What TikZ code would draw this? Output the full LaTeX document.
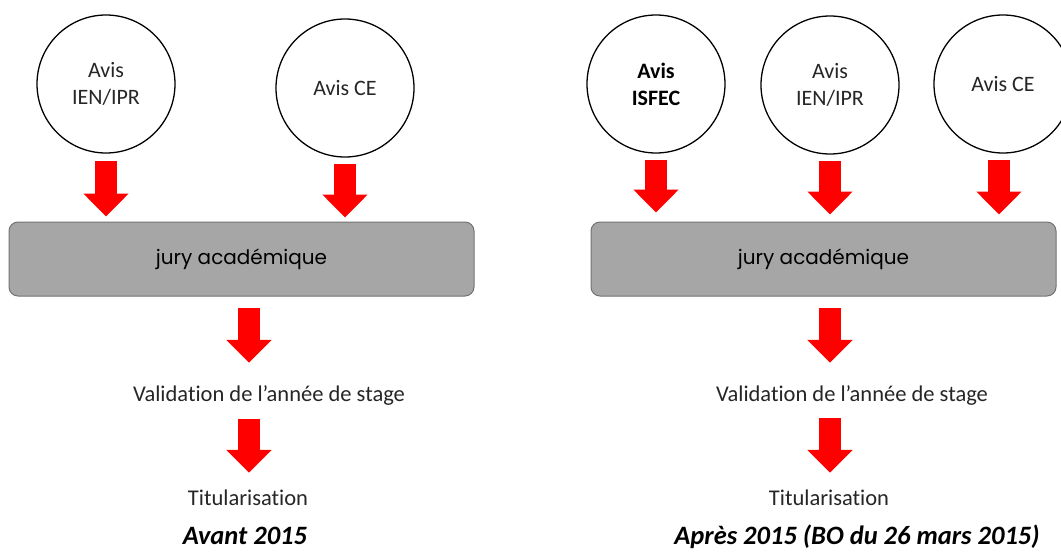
\documentclass[tikz,border=0pt]{standalone}
\usepackage{fontspec}
\setmainfont{Carlito}[Ligatures={NoCommon}]
\newfontfamily\juryfont{Poppins}
\usetikzlibrary{arrows.meta}
\tikzset{
 avis/.style={circle, draw=black, line width=1.3pt, minimum size=138pt, inner sep=0pt, align=center,
   font=\fontsize{22}{27}\selectfont, text=black!85},
 jurybox/.style={rectangle, rounded corners=9pt, draw=black!55, line width=1pt, fill=black!35,
   minimum width=465pt, minimum height=74pt, font=\juryfont\fontsize{20}{24}\selectfont},
 lbl/.style={font=\fontsize{22.5}{27}\selectfont, text=black!85, anchor=base, inner sep=0pt,
   text height=16pt, text depth=5pt},
 titre/.style={font=\bfseries\itshape\fontsize{26.5}{30}\selectfont, anchor=base},
 bigarrow/.style={draw=red, line width=22pt, -{Triangle[length=23pt,width=44pt]}},
}
\begin{document}
\begin{tikzpicture}[x=1pt,y=-1pt]
\useasboundingbox (0,0) rectangle (1061,552);
\clip (0,0) rectangle (1061,552);
\fill[white] (0,0) rectangle (1061,552);

% ---------- Avant 2015 ----------
\node[avis] (c1) at (106,84) {Avis\\IEN/IPR};
\node[avis] (c2) at (345,88) {Avis CE};
\node[jurybox] (jury1) at (241.5,259) {jury académique};
\node[lbl] (val1) at (269,401) {Validation de l’année de stage};
\node[lbl] (tit1) at (248,505) {Titularisation};
\node[titre] (t1) at (245,544) {Avant 2015};

\draw[bigarrow, shorten <=7pt, shorten >=5pt] (c1.south) -- (c1.south |- jury1.north);
\draw[bigarrow, shorten <=6pt, shorten >=4pt] (c2.south) -- (c2.south |- jury1.north);
\coordinate (j1out) at ([xshift=7.5pt]jury1.south);
\draw[bigarrow, shorten <=11pt, shorten >=22pt] (j1out) -- (j1out |- val1.north);
\coordinate (v1out) at (j1out |- val1.south);
\draw[bigarrow, shorten <=13pt, shorten >=16pt] (v1out) -- (v1out |- tit1.north);

% ---------- Après 2015 ----------
\node[avis, font=\bfseries\fontsize{22}{27}\selectfont, text=black] (c3) at (656,84) {Avis\\ISFEC};
\node[avis] (c4) at (830,85) {Avis\\IEN/IPR};
\node[avis] (c5) at (1003,84) {Avis CE};
\node[jurybox] (jury2) at (823.5,259) {jury académique};
\node[lbl] (val2) at (852,401) {Validation de l’année de stage};
\node[lbl] (tit2) at (829,505) {Titularisation};
\node[titre] (t2) at (857,544) {Après 2015 (BO du 26 mars 2015)};

\draw[bigarrow, shorten <=6pt, shorten >=9pt] (c3.south) -- (c3.south |- jury2.north);
\draw[bigarrow, shorten <=6pt, shorten >=7pt] (c4.south) -- (c4.south |- jury2.north);
\draw[bigarrow, shorten <=6pt, shorten >=7pt] ([xshift=-4pt]c5.south) -- ([xshift=-4pt]c5.south |- jury2.north);
\coordinate (j2out) at ([xshift=6.5pt]jury2.south);
\draw[bigarrow, shorten <=11pt, shorten >=22pt] (j2out) -- (j2out |- val2.north);
\coordinate (v2out) at (j2out |- val2.south);
\draw[bigarrow, shorten <=12pt, shorten >=16pt] (v2out) -- (v2out |- tit2.north);
\end{tikzpicture}
\end{document}
